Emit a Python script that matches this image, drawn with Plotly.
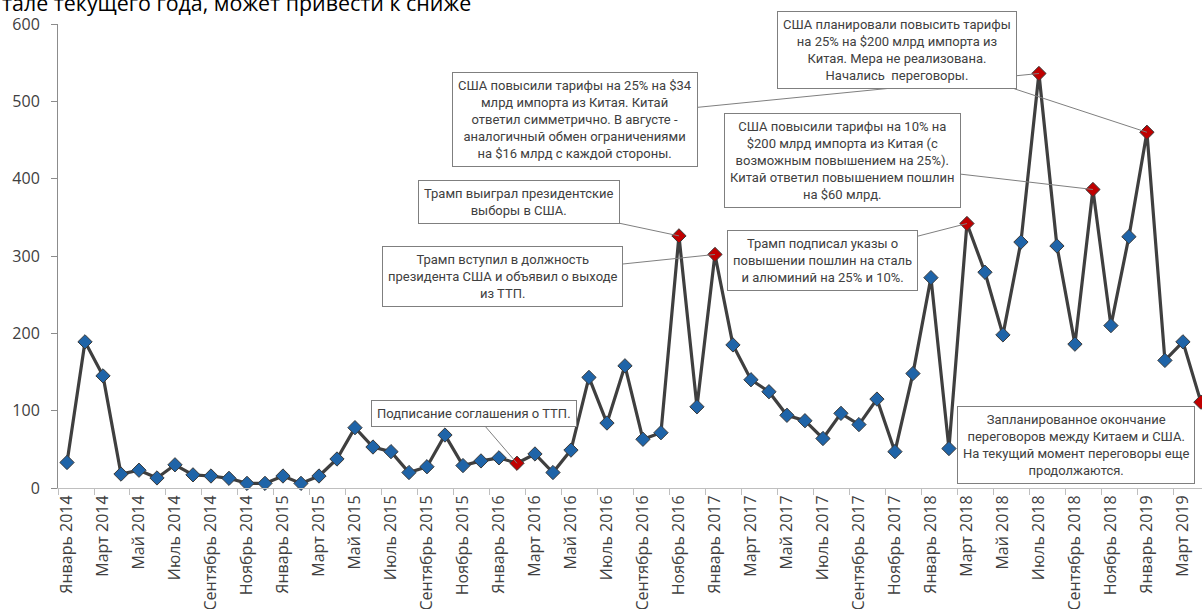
import plotly.graph_objects as go

month_names = ["Январь", "Февраль", "Март", "Апрель", "Май", "Июнь",
               "Июль", "Август", "Сентябрь", "Октябрь", "Ноябрь", "Декабрь"]
years = [2014, 2015, 2016, 2017, 2018, 2019]
months = [f"{m} {y}" for y in years for m in month_names][:64]

values = [
    33, 189, 145, 18, 23, 13, 30, 17, 15.5, 12.5, 6, 6,
    15.5, 6, 15.5, 37.5, 78, 53, 47, 20, 27.5, 68.5, 29, 35,
    39, 32, 44, 20, 49, 143, 84, 158, 63, 71.5, 326, 105,
    302, 185, 140, 124.5, 94, 87, 64, 96.5, 82, 115, 47, 148,
    272, 51, 342, 279, 198, 318, 536, 313, 186, 386, 210, 325,
    460, 165, 189, 111,
]

event_months = ["Февраль 2016", "Ноябрь 2016", "Январь 2017", "Март 2018",
                "Июль 2018", "Октябрь 2018", "Январь 2019", "Апрель 2019"]
event_texts = [
    "Подписание соглашения о ТТП.",
    "Трамп выиграл президентские<br>выборы в США.",
    "Трамп вступил в должность<br>президента США и объявил о выходе<br>из ТТП.",
    "Трамп подписал указы о<br>повышении пошлин на сталь<br>и алюминий на 25% и 10%.",
    "США повысили тарифы на 25% на $34<br>млрд импорта из Китая. Китай<br>ответил симметрично. В августе -<br>аналогичный обмен ограничениями<br>на $16 млрд с каждой стороны.",
    "США повысили тарифы на 10% на<br>$200 млрд импорта из Китая (с<br>возможным повышением на 25%).<br>Китай ответил повышением пошлин<br>на $60 млрд.",
    "США планировали повысить тарифы<br>на 25% на $200 млрд импорта из<br>Китая. Мера не реализована.<br>Начались  переговоры.",
    "Запланированное окончание<br>переговоров между Китаем и США.<br>На текущий момент переговоры еще<br>продолжаются.",
]
header_text = "тале текущего года, может привести к сниже"

# layout-only: callout box offsets in pixels (dx, dy, draw connector)
callout_offsets = [(-43, -50, True), (-160, -34, True), (-212, 22, True),
                   (-144, 37, True), (-464, 46, True), (-250, -29, True),
                   (-250, -82, True), (-125, -43, False)]

x_idx = list(range(len(months)))
blue, red = "#1f64a8", "#c00000"
marker_colors = [red if m in event_months else blue for m in months]

fig = go.Figure()
fig.add_trace(go.Scatter(
    x=x_idx, y=values, mode="lines+markers", cliponaxis=False,
    line=dict(color="#3f3f3f", width=3.2),
    marker=dict(symbol="diamond", size=11, color=marker_colors,
                line=dict(color="#3a3a3a", width=1)),
    hoverinfo="y", showlegend=False,
))

ann_font = dict(family="Roboto", size=13, color="#404040")
for m, txt, (dx, dy, conn) in zip(event_months, event_texts, callout_offsets):
    i = months.index(m)
    if conn:
        fig.add_annotation(x=i, y=values[i], text=txt, showarrow=True,
                           arrowhead=0, arrowwidth=1, arrowcolor="#7f7f7f",
                           axref="pixel", ayref="pixel", ax=dx, ay=dy,
                           standoff=0, font=ann_font, bgcolor="white",
                           bordercolor="#7f7f7f", borderwidth=1, borderpad=5)
    else:
        fig.add_annotation(x=i, y=values[i], text=txt, showarrow=False,
                           xshift=dx, yshift=dy, font=ann_font,
                           bgcolor="white", bordercolor="#7f7f7f",
                           borderwidth=1, borderpad=5)

fig.add_annotation(x=0, y=1, xref="paper", yref="paper", xanchor="left",
                   yanchor="bottom", xshift=-58, yshift=5, showarrow=False,
                   text=header_text,
                   font=dict(family="Open Sans", size=21.4, color="#000000"))

fig.update_layout(
    width=1202, height=609,
    margin=dict(l=58, r=0, t=24, b=121, autoexpand=False),
    paper_bgcolor="white", plot_bgcolor="white",
    xaxis=dict(
        range=[-0.5, 63.06], tickmode="array", automargin=False,
        tickvals=x_idx[::2], ticktext=months[::2], tickangle=-90,
        ticks="", showgrid=False, zeroline=False,
        showline=True, linecolor="#bfbfbf", linewidth=1,
        tickfont=dict(family="Open Sans", size=16, color="#404040"),
        minor=dict(tick0=-0.5, dtick=2, ticks="outside", ticklen=6,
                   tickcolor="#bfbfbf", showgrid=False),
    ),
    yaxis=dict(
        range=[0, 600], tickmode="linear", tick0=0, dtick=100,
        ticks="outside", ticklen=6, tickcolor="#8c8c8c", automargin=False,
        showline=True, linecolor="#8c8c8c", linewidth=1,
        showgrid=False, zeroline=False, ticklabelstandoff=8,
        tickfont=dict(family="Open Sans", size=16, color="#404040"),
    ),
)

fig.write_html(
    "out.html",
    config={"displayModeBar": False},
    post_script="document.body.style.margin='0';document.body.style.overflow='hidden';",
)
